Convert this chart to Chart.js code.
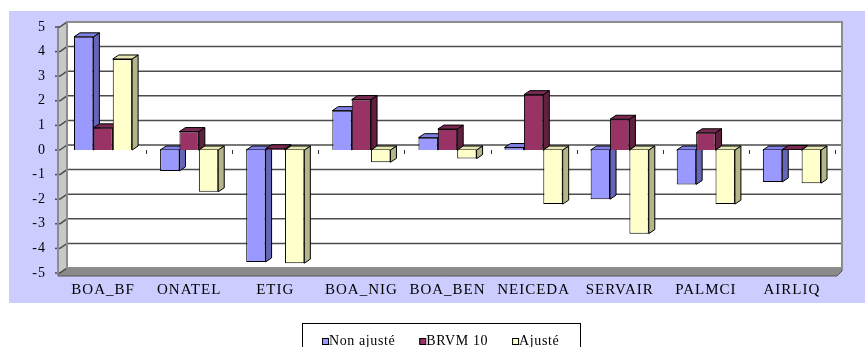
<!DOCTYPE html>
<html>
<head>
<meta charset="utf-8">
<script src="https://cdn.jsdelivr.net/npm/chart.js@4.4.1/dist/chart.umd.min.js"></script>
<style>
html, body { margin: 0; padding: 0; background: #fff; }
</style>
</head>
<body>
<canvas id="myChart" width="865" height="347"></canvas>
<script>
// data
const categories = ["BOA_BF", "ONATEL", "ETIG", "BOA_NIG", "BOA_BEN", "NEICEDA", "SERVAIR", "PALMCI", "AIRLIQ"];
const nonAjuste  = [4.6, -0.85, -4.55, 1.6, 0.5, 0.1, -2.0, -1.4, -1.3];
const brvm10     = [0.9, 0.75, 0.05, 2.05, 0.85, 2.25, 1.25, 0.7, 0.02];
const ajuste     = [3.7, -1.7, -4.6, -0.5, -0.35, -2.2, -3.4, -2.2, -1.35];
const seriesNames = ["Non ajusté", "BRVM 10", "Ajusté"];
const yMin = -5, yMax = 5, yStep = 1;

// colours: front / side / top
const frontColors = ["#9999FF", "#993366", "#FFFFCC"];
const sideColors  = ["#6666B8", "#62203F", "#B5B58C"];
const topColors   = ["#8080E6", "#7A2A52", "#E6E6B3"];

const DX = 7, DY = 5;   // wall depth
const BX = 6, BY = 4;   // bar depth

function poly(ctx, pts, fill, stroke) {
  ctx.beginPath();
  ctx.moveTo(pts[0][0], pts[0][1]);
  for (let k = 1; k < pts.length; k++) ctx.lineTo(pts[k][0], pts[k][1]);
  ctx.closePath();
  if (fill) { ctx.fillStyle = fill; ctx.fill(); }
  if (stroke) { ctx.strokeStyle = stroke; ctx.stroke(); }
}

const depth3d = {
  id: 'depth3d',
  beforeDraw(chart) {
    const { ctx, chartArea: a, scales: { y } } = chart;
    ctx.save();
    // outer area
    ctx.fillStyle = '#CCCCFF';
    ctx.fillRect(9, 11, 856, 292);
    // back wall
    ctx.fillStyle = '#fff';
    ctx.fillRect(a.left + DX, a.top - DY, a.right - a.left, a.bottom - a.top);
    ctx.lineWidth = 1;
    // left wall
    poly(ctx, [[a.left - 2, a.top + 1], [a.left + DX, a.top - DY], [a.left + DX, a.bottom - DY], [a.left - 2, a.bottom + 1]], '#C8C8C8', '#666');
    // floor with a little thickness
    poly(ctx, [[a.left - 2, a.bottom + 1], [a.left + DX, a.bottom - DY], [a.right + DX, a.bottom - DY], [a.right + DX, a.bottom - DY + 3], [a.right + 2, a.bottom + 3], [a.left - 2, a.bottom + 3]], '#8A8A8A', '#555');
    // grid lines on the walls
    ctx.strokeStyle = '#4d4d4d';
    ctx.lineWidth = 1.5;
    y.ticks.forEach(t => {
      const py = y.getPixelForValue(t.value);
      ctx.beginPath();
      ctx.moveTo(a.left, py);
      ctx.lineTo(a.left + DX, py - DY);
      ctx.lineTo(a.right + DX, py - DY);
      ctx.stroke();
      ctx.beginPath();
      ctx.moveTo(a.left - 5, py);
      ctx.lineTo(a.left, py);
      ctx.stroke();
    });
    // back wall border
    ctx.lineWidth = 2;
    ctx.strokeStyle = '#8c8c8c';
    ctx.strokeRect(a.left + DX, a.top - DY, a.right - a.left, a.bottom - a.top);
    ctx.beginPath();
    ctx.moveTo(a.left - 2, a.top + 1); ctx.lineTo(a.left - 2, a.bottom + 1);
    ctx.stroke();
    // category ticks on the zero line
    const y0 = y.getPixelForValue(0);
    const step = (a.right - a.left) / categories.length;
    ctx.strokeStyle = '#333';
    ctx.lineWidth = 1;
    for (let j = 1; j <= categories.length; j++) {
      const px = Math.round(a.left + step * j) + 0.5;
      ctx.beginPath();
      ctx.moveTo(px, y0);
      ctx.lineTo(px, y0 + 4);
      ctx.stroke();
    }
    ctx.restore();
    // slightly wider serif text, as in the original
    ctx.letterSpacing = '1px';
  },
  beforeDatasetsDraw(chart) {
    const ctx = chart.ctx;
    ctx.save();
    ctx.lineWidth = 1;
    for (let j = 0; j < categories.length; j++) {
      chart.data.datasets.forEach((ds, i) => {
        const bar = chart.getDatasetMeta(i).data[j];
        const p = bar.getProps(['x', 'y', 'base', 'width'], true);
        const l = p.x - p.width / 2, r = p.x + p.width / 2;
        const top = Math.min(p.y, p.base), bot = Math.max(p.y, p.base);
        poly(ctx, [[r, top], [r + BX, top - BY], [r + BX, bot - BY], [r, bot]], sideColors[i], '#000');
        poly(ctx, [[l, top], [l + BX, top - BY], [r + BX, top - BY], [r, top]], topColors[i], '#000');
      });
    }
    ctx.restore();
  },
  afterDraw(chart) {
    // legend
    const ctx = chart.ctx;
    ctx.save();
    ctx.letterSpacing = '0.6px';
    ctx.font = '14px "Liberation Serif", serif';
    ctx.textBaseline = 'alphabetic';
    const sq = 6, gap = 1, spacing = 24;
    const widths = seriesNames.map(n => ctx.measureText(n).width);
    const boxL = 302, boxR = 580;
    let x = boxL + 20;
    ctx.strokeStyle = '#000';
    ctx.lineWidth = 1;
    ctx.strokeRect(boxL + 0.5, 323.5, boxR - boxL, 30);
    seriesNames.forEach((n, i) => {
      ctx.fillStyle = frontColors[i];
      ctx.fillRect(x, 338, sq, sq);
      ctx.strokeRect(x + 0.5, 338.5, sq, sq);
      ctx.fillStyle = '#000';
      ctx.fillText(n, x + sq + gap, 345);
      x += sq + gap + widths[i] + spacing;
    });
    ctx.restore();
    ctx.letterSpacing = '0px';
  }
};

const ctx = document.getElementById('myChart').getContext('2d');
const myChart = new Chart(ctx, {
  type: 'bar',
  data: {
    labels: categories,
    datasets: [nonAjuste, brvm10, ajuste].map((d, i) => ({
      label: seriesNames[i],
      data: d,
      backgroundColor: frontColors[i],
      borderColor: '#000',
      borderWidth: 1,
      categoryPercentage: 0.675,
      barPercentage: 1.0
    }))
  },
  options: {
    responsive: false,
    animation: false,
    layout: { padding: { top: 27, right: 30, bottom: 0, left: 0 } },
    plugins: {
      legend: { display: false },
      tooltip: { enabled: false }
    },
    scales: {
      x: {
        grid: { display: false, drawTicks: false },
        border: { display: false },
        ticks: { color: '#000', font: { family: '"Liberation Serif", serif', size: 15 }, padding: 8, maxRotation: 0 },
        afterFit: s => { s.height = 74; }
      },
      y: {
        min: yMin,
        max: yMax,
        grid: { display: false, drawTicks: false },
        border: { display: false },
        ticks: { stepSize: yStep, color: '#000', font: { family: '"Liberation Serif", serif', size: 14 }, padding: 14 },
        afterFit: s => { s.width = 60; }
      }
    }
  },
  plugins: [depth3d]
});
</script>
</body>
</html>
